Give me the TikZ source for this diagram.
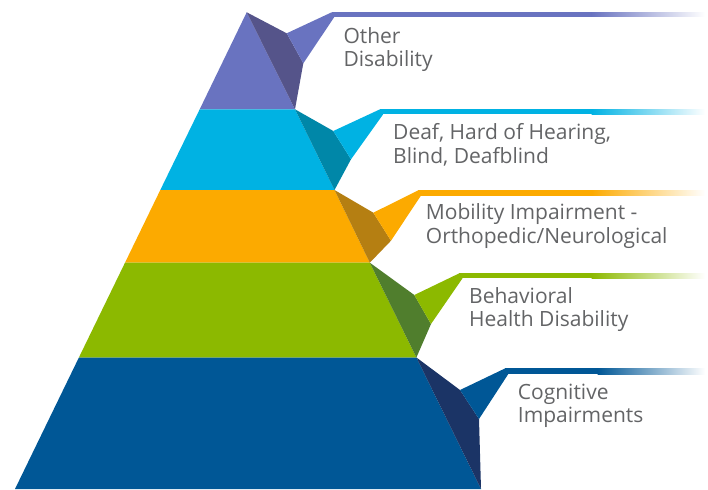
\documentclass[tikz,border=0pt]{standalone}
\usepackage{fontspec}
\setmainfont{Open Sans}
\definecolor{pu}{HTML}{6973C0}\definecolor{puD}{HTML}{55548A}
\definecolor{cy}{HTML}{00B2E3}\definecolor{cyD}{HTML}{0087A8}
\definecolor{or}{HTML}{FCAA00}\definecolor{orD}{HTML}{B57F12}
\definecolor{gr}{HTML}{8CB900}\definecolor{grD}{HTML}{507E2D}
\definecolor{bl}{HTML}{005796}\definecolor{blD}{HTML}{1B3466}
\definecolor{txtgray}{HTML}{636466}
\begin{document}
\begin{tikzpicture}[x=1pt,y=-1pt,
  lbl/.style={anchor=base west, align=left, text=txtgray, font=\fontsize{21}{23.2}\selectfont, inner sep=0pt}]
\useasboundingbox (0,0) rectangle (708,489);
% front faces
\fill[pu] (246.7,12.3) -- (295,109.3) -- (199.7,109.3) -- cycle;
\fill[cy] (199.7,109.3) -- (295,109.3) -- (334.5,190) -- (160.3,190) -- cycle;
\fill[or] (160.3,190) -- (334.5,190) -- (369.8,262.7) -- (125,262.7) -- cycle;
\fill[gr] (125,262.7) -- (369.8,262.7) -- (416.4,357.5) -- (78.9,357.5) -- cycle;
\fill[bl] (78.9,357.5) -- (416.4,357.5) -- (481,489) -- (15,489) -- cycle;
% dark side faces
\fill[puD] (246.7,12.3) -- (286.7,33.3) -- (303.3,63.3) -- (295,109.3) -- cycle;
\fill[cyD] (295,109.3) -- (333.3,131) -- (351,159.3) -- (334.5,190) -- cycle;
\fill[orD] (334.5,190) -- (373.3,212.7) -- (391,240.7) -- (369.8,262.7) -- cycle;
\fill[grD] (369.8,262.7) -- (414.3,295) -- (431,324) -- (416.4,357.5) -- cycle;
\fill[blD] (416.4,357.5) -- (460,390) -- (479,419) -- (481,489) -- cycle;
% flaps
\fill[pu] (286.7,33.3) -- (331.7,12.3) -- (334.5,16.7) -- (303.3,63.3) -- cycle;
\fill[cy] (333.3,131) -- (380,109.3) -- (383,114.5) -- (351,159.3) -- cycle;
\fill[or] (373.3,212.7) -- (418.3,190.3) -- (421,195.5) -- (391,240.7) -- cycle;
\fill[gr] (414.3,295) -- (459.3,273.3) -- (462.5,278.3) -- (431,324) -- cycle;
\fill[bl] (460,390) -- (505.3,368.3) -- (508.3,374) -- (479,419) -- cycle;
% bars
\fill[pu] (331.7,12.3) rectangle (592,16.7);
\shade[left color=pu, right color=white] (591.5,12.3) rectangle (705,16.7);
\fill[cy] (380,109.3) rectangle (592,114.5);
\shade[left color=cy, right color=white] (591.5,109.3) rectangle (705,114.5);
\fill[or] (418.3,190.3) rectangle (592,195.5);
\shade[left color=or, right color=white] (591.5,190.3) rectangle (705,195.5);
\fill[gr] (459.3,273.3) rectangle (592,278.3);
\shade[left color=gr, right color=white] (591.5,273.3) rectangle (705,278.3);
\fill[bl] (505.3,368.3) rectangle (598,374);
\shade[left color=bl, right color=white] (597.5,368.3) rectangle (705,374);
% labels (anchor = baseline of last line)
\node[lbl] (t1) at (343.3,66.3) {Other\\Disability};
\node[lbl] (t2) at (393,163) {Deaf, Hard of Hearing,\\Blind, Deafblind};
\node[lbl] (t3) at (425.7,243) {Mobility Impairment -\\Orthopedic/Neurological};
\node[lbl] (t4) at (469,326.5) {Behavioral\\Health Disability};
\node[lbl] (t5) at (517.7,422.3) {Cognitive\\Impairments};
\end{tikzpicture}
\end{document}
